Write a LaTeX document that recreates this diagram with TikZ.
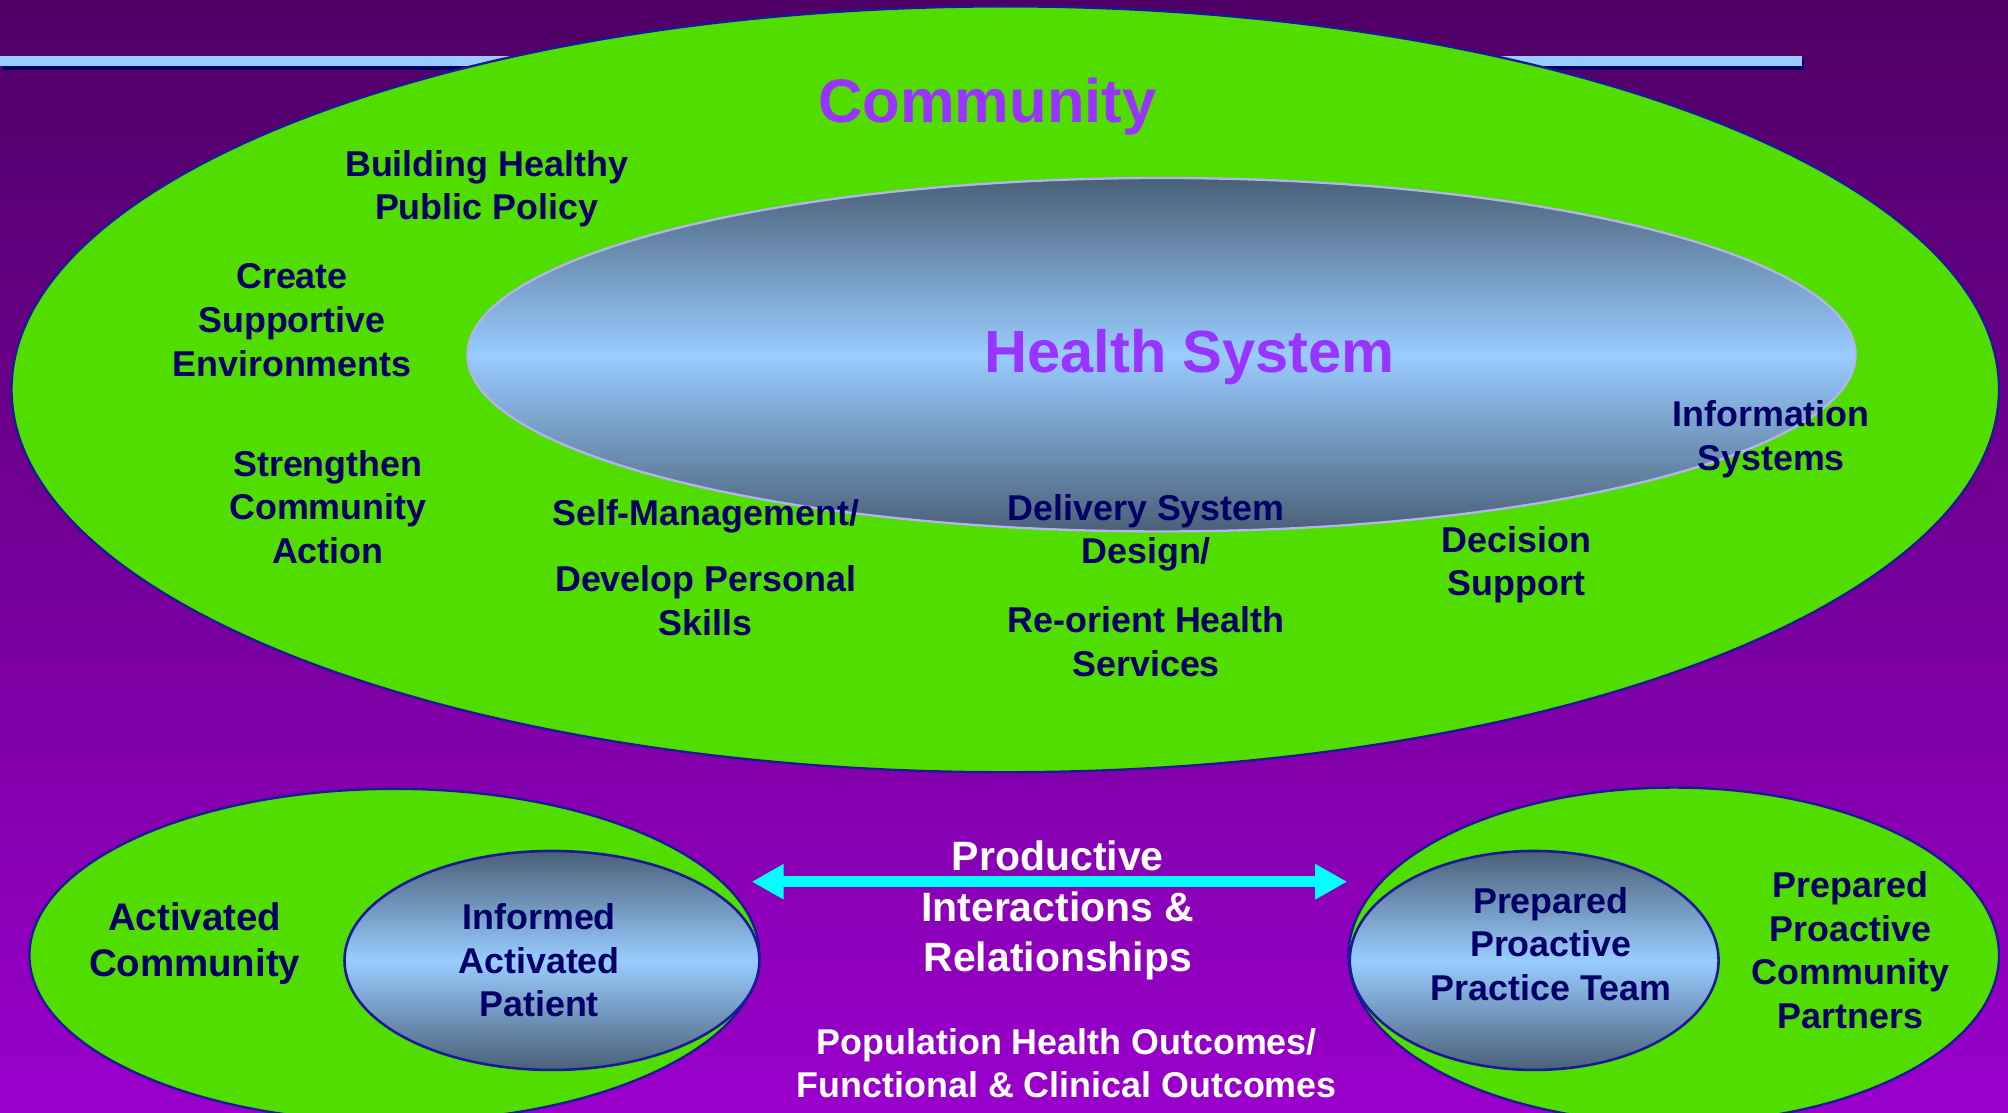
\documentclass[tikz,border=0pt]{standalone}
\usepackage{fontspec}
\setmainfont{Liberation Sans}
\usetikzlibrary{shapes.geometric,arrows.meta}
\definecolor{bgtop}{HTML}{4F0066}
\definecolor{bgbot}{HTML}{9A00CC}
\definecolor{grn}{HTML}{52DD00}
\definecolor{navy}{HTML}{000066}
\definecolor{edgeblue}{HTML}{1A1A99}
\definecolor{titlec}{HTML}{9933FF}
\definecolor{slate}{HTML}{4A6078}
\definecolor{sky}{HTML}{99CCFF}
\definecolor{lav}{HTML}{B3B3F0}
\definecolor{arrowc}{HTML}{00FFFF}
\begin{document}
\begin{tikzpicture}[x=1pt,y=-1pt,
  greenell/.style={ellipse, draw=edgeblue, line width=1.8pt, fill=grn, inner sep=0pt},
  blueell/.style={ellipse, inner sep=0pt, top color=slate, bottom color=slate, middle color=sky},
  lbl/.style={align=center, text=navy, font=\bfseries\fontsize{28}{34}\selectfont, inner sep=0pt},
  wlbl/.style={align=center, text=white, font=\bfseries\fontsize{28}{33.5}\selectfont, inner sep=0pt},
  title/.style={text=titlec, font=\bfseries\fontsize{48}{56}\selectfont, inner sep=0pt},
  biarrow/.style={line width=8.3pt, draw=arrowc, {Triangle[length=25pt,width=26pt]}-{Triangle[length=25pt,width=26pt]}}
]
\useasboundingbox (0,0) rectangle (1568,869);
\clip (0,0) rectangle (1568,869);
\shade[top color=bgtop, bottom color=bgbot] (0,0) rectangle (1568,869);
% decorative bar
\fill[navy] (2,47) rectangle (1409,54.5);
\fill[sky] (0,43.5) rectangle (1407,51.5);
% community ellipse
\node[greenell, minimum width=1552pt, minimum height=598pt] (community) at (785,304) {};
\node[blueell, draw=lav, line width=1.8pt, minimum width=1084pt, minimum height=276pt] (health) at (907,277) {};
\node[title] (tcom) at (771,83) {Community};
\node[title, font=\bfseries\fontsize{46.5}{56}\selectfont] (thealth) at (929,279) {Health System};
\node[lbl] (policy) at (380,147.5) {Building Healthy\\Public Policy};
\node[lbl] (env) at (228,250) {Create\\Supportive\\Environments};
\node[lbl] (action) at (256,396) {Strengthen\\Community\\Action};
\node[lbl] (selfm) at (551,403.5) {Self-Management/};
\node[lbl] (skills) at (551,469) {Develop Personal\\Skills};
\node[lbl] (delivery) at (895,416) {Delivery System\\Design/};
\node[lbl] (reorient) at (895,501) {Re-orient Health\\Services};
\node[lbl] (decision) at (1184,441) {Decision\\Support};
\node[lbl] (info) at (1383,343) {Information\\Systems};
% bottom left
\node[greenell, minimum width=570pt, minimum height=260pt] (actcom) at (308,746) {};
\node[blueell, draw=edgeblue, line width=2pt, minimum width=324pt, minimum height=171pt] (patient) at (431,750) {};
\node[lbl, font=\bfseries\fontsize{30}{36}\selectfont] (tactcom) at (152,737) {Activated\\Community};
\node[lbl] (tpatient) at (421,750) {Informed\\Activated\\Patient};
% bottom right
\node[greenell, minimum width=508pt, minimum height=262pt] (partners) at (1307,746) {};
\node[blueell, draw=edgeblue, line width=2pt, minimum width=288pt, minimum height=171pt] (team) at (1198,750) {};
\node[lbl] (tteam) at (1211,737) {Prepared\\Proactive\\Practice Team};
\node[lbl] (tpartners) at (1445,742) {Prepared\\Proactive\\Community\\Partners};
% arrow and centre texts
\coordinate (al) at (587,688.5);
\coordinate (ar) at (1052,688.5);
\draw[biarrow] (al) -- (ar);
\node[wlbl, font=\bfseries\fontsize{32}{39.5}\selectfont] (interact) at (826,711) {Productive\\Interactions \&\\Relationships};
\node[wlbl] (outcomes) at (833,830) {Population Health Outcomes/\\Functional \& Clinical Outcomes};
\end{tikzpicture}
\end{document}
